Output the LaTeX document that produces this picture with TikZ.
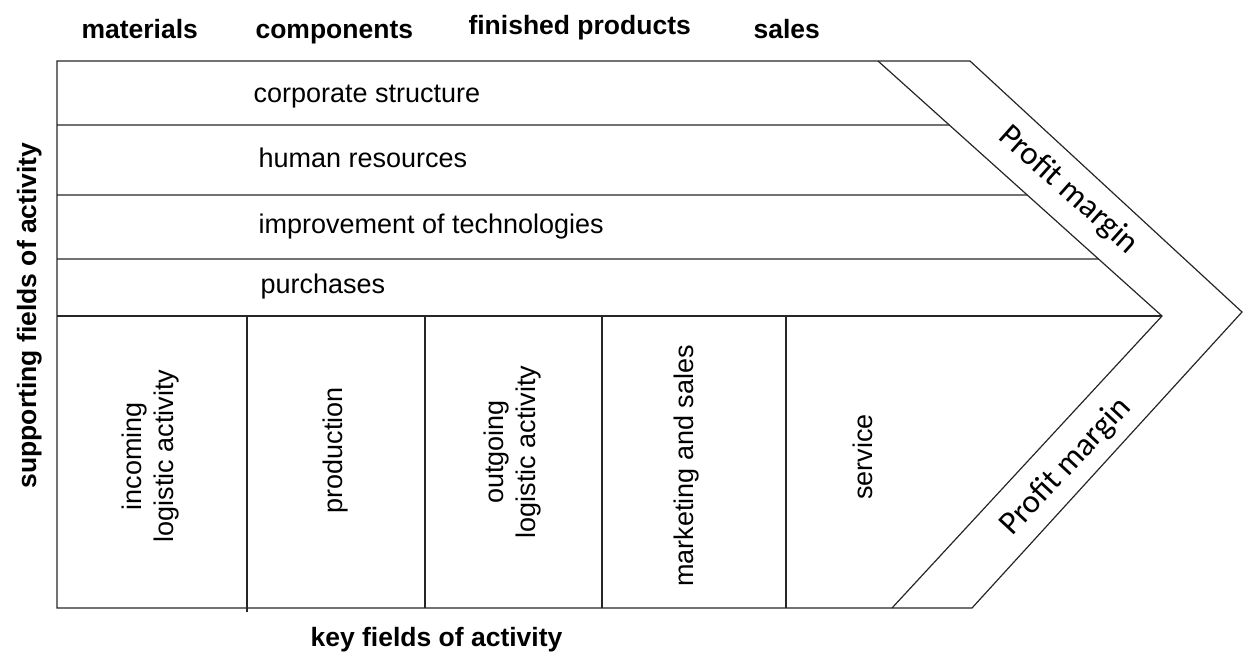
\documentclass[tikz,border=0pt]{standalone}
\usepackage{fontspec}
\setmainfont{Liberation Sans}
\newfontfamily\marginfont{Carlito}
\usetikzlibrary{calc}
\usetikzlibrary{positioning}

\begin{document}
\begin{tikzpicture}[x=1pt, y=1pt,
        frame/.style={line width=1.2pt, draw=black!85},
        rowtext/.style={anchor=base west, font=\fontsize{27}{32}\selectfont},
        coltext/.style={rotate=90, align=center, font=\fontsize{27}{32}\selectfont},
        head/.style={anchor=base west, font=\fontsize{26.5}{30}\selectfont\bfseries},
        margintext/.style={font=\fontsize{33}{36}\selectfont\marginfont}]
            \useasboundingbox (0,0) rectangle (1243,-651);
            % corners of the chevron
            \coordinate (tl) at (57,-61);
            \coordinate (bl) at (57,-608);
            \coordinate (ta) at (878,-61);
            \coordinate (tb) at (970,-61);
            \coordinate (va) at (1162,-316);
            \coordinate (vb) at (1242,-312);
            \coordinate (ba) at (892,-608);
            \coordinate (bb) at (972,-608);
            \draw[frame] (tl) -- (tb) -- (vb) -- (bb) -- (bl) -- cycle;
            \draw[frame] (ta) -- (va) -- (ba);
            % supporting rows
            \foreach \y in {125,195,259}
            {
                \pgfmathsetmacro\f{(\y-61)/255}
                \draw[frame] (57,-\y) -- ($(ta)!\f!(va)$);
            }
            \draw[frame] (57,-316) -- (va);
            % key columns
            \draw[frame] (247,-316) -- (247,-612);
            \foreach \x in {425,602,786}
                \draw[frame] (\x,-316) -- (\x,-608);
            % headings
            \node[head] (mat) at (78,-38) {materials};
            \node[head] (comp) at (252,-38) {components};
            \node[head] (fin) at (465,-34) {finished products};
            \node[head] (sal) at (750,-38) {sales};
            \node[head] (key) at (307,-646) {key fields of activity};
            \node[head, rotate=90] (sup) at (36,-492) {supporting fields of activity};
            % rows
            \node[rowtext] (corp) at (250,-102) {corporate structure};
            \node[rowtext] (hum) at (255,-167) {human resources};
            \node[rowtext] (tech) at (255,-233) {improvement of technologies};
            \node[rowtext] (purch) at (257,-293) {purchases};
            % columns
            \node[coltext] (inc) at (151,-456) {incoming\\logistic activity};
            \node[coltext] (prod) at (336,-450) {production};
            \node[coltext] (out) at (513,-452) {outgoing\\logistic activity};
            \node[coltext] (mark) at (687,-466) {marketing and sales};
            \node[coltext] (serv) at (863,-457) {service};
            % profit margin
            \node[margintext, rotate=-41.8] (pm1) at (1068,-190) {Profit margin};
            \node[margintext, rotate=47.1] (pm2) at (1066,-467) {Profit margin};
        \end{tikzpicture}
\end{document}
